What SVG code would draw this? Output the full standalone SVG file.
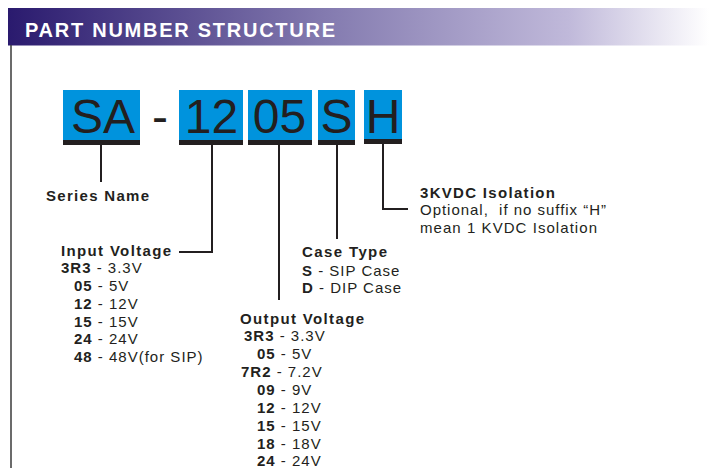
<svg xmlns="http://www.w3.org/2000/svg" width="709" height="468" viewBox="0 0 709 468">
<defs>
<linearGradient id="hdr" x1="0" y1="0" x2="1" y2="0">
<stop offset="0" stop-color="#2a1a6e"/>
<stop offset="0.45" stop-color="#837aaf"/>
<stop offset="0.8" stop-color="#c0b9da"/>
<stop offset="1" stop-color="#ffffff"/>
</linearGradient>
</defs>
<style>
text{font-family:"Liberation Sans",Arial,sans-serif;fill:#231f20}
.code{font-size:48px}
.box{fill:#0093dd}
.bar{fill:#231f20}
.head{font-size:15px;font-weight:bold}
.val{font-size:15px;letter-spacing:1px}
.val tspan.b{font-weight:bold}
.ln{stroke:#231f20;stroke-width:2;fill:none}
</style>
<rect x="8" y="8" width="701" height="37.5" fill="url(#hdr)"/>
<text x="25" y="37" font-size="20" font-weight="bold" style="fill:#ffffff" textLength="310" lengthAdjust="spacing">PART NUMBER STRUCTURE</text>
<line x1="11" y1="45" x2="11" y2="468" stroke="#3a3a3a" stroke-width="1.5"/>

<g id="code-SA">
<rect class="box" x="63" y="90" width="77" height="50"/>
<rect class="bar" x="63" y="140" width="77" height="5"/>
<text class="code" x="103" y="133" text-anchor="middle">SA</text>
</g>
<g id="dash">
<text class="code" x="160" y="133" text-anchor="middle">-</text>
</g>
<g id="code-12">
<rect class="box" x="179" y="90" width="64" height="50"/>
<rect class="bar" x="179" y="140" width="64" height="5"/>
<text class="code" x="211.5" y="133" text-anchor="middle">12</text>
</g>
<g id="code-05">
<rect class="box" x="248" y="90" width="64" height="50"/>
<rect class="bar" x="248" y="140" width="64" height="5"/>
<text class="code" x="279.5" y="133" text-anchor="middle">05</text>
</g>
<g id="code-S">
<rect class="box" x="318" y="90" width="37" height="50"/>
<rect class="bar" x="318" y="140" width="37" height="5"/>
<text class="code" x="336.5" y="133" text-anchor="middle">S</text>
</g>
<g id="code-H">
<rect class="box" x="364" y="90" width="38" height="49"/>
<rect class="bar" x="364" y="139" width="38" height="5"/>
<text class="code" x="383" y="133" text-anchor="middle">H</text>
</g>

<g id="connectors">
<path class="ln" d="M101 145 V182"/>
<path class="ln" d="M212 145 V252 H179"/>
<path class="ln" d="M279 145 V300"/>
<path class="ln" d="M337 145 V239"/>
<path class="ln" d="M383 144 V209 H408"/>
</g>

<g id="series-name">
<text class="head" x="46" y="201" textLength="103" lengthAdjust="spacing">Series Name</text>
</g>

<g id="input-voltage">
<text class="head" x="61" y="256" textLength="110" lengthAdjust="spacing">Input Voltage</text>
<text class="val" x="61" y="273"><tspan class="b">3R3</tspan> - 3.3V</text>
<text class="val" x="74" y="291"><tspan class="b">05</tspan> - 5V</text>
<text class="val" x="74" y="309"><tspan class="b">12</tspan> - 12V</text>
<text class="val" x="74" y="327"><tspan class="b">15</tspan> - 15V</text>
<text class="val" x="74" y="344"><tspan class="b">24</tspan> - 24V</text>
<text class="val" x="74" y="362"><tspan class="b">48</tspan> - 48V(for SIP)</text>
</g>

<g id="output-voltage">
<text class="head" x="240" y="324" textLength="124" lengthAdjust="spacing">Output Voltage</text>
<text class="val" x="244" y="341"><tspan class="b">3R3</tspan> - 3.3V</text>
<text class="val" x="257" y="359"><tspan class="b">05</tspan> - 5V</text>
<text class="val" x="241" y="377"><tspan class="b">7R2</tspan> - 7.2V</text>
<text class="val" x="257" y="395"><tspan class="b">09</tspan> - 9V</text>
<text class="val" x="257" y="413"><tspan class="b">12</tspan> - 12V</text>
<text class="val" x="257" y="431"><tspan class="b">15</tspan> - 15V</text>
<text class="val" x="257" y="449"><tspan class="b">18</tspan> - 18V</text>
<text class="val" x="257" y="466"><tspan class="b">24</tspan> - 24V</text>
</g>

<g id="case-type">
<text class="head" x="302" y="257" textLength="85" lengthAdjust="spacing">Case Type</text>
<text class="val" x="302" y="276"><tspan class="b">S</tspan> - SIP Case</text>
<text class="val" x="302" y="293"><tspan class="b">D</tspan> - DIP Case</text>
</g>

<g id="isolation">
<text class="head" x="420" y="198" textLength="135" lengthAdjust="spacing">3KVDC Isolation</text>
<text class="val" x="420" y="215" xml:space="preserve" textLength="187" lengthAdjust="spacing">Optional,  if no suffix “H”</text>
<text class="val" x="420" y="233" textLength="178" lengthAdjust="spacing">mean 1 KVDC Isolation</text>
</g>
</svg>
